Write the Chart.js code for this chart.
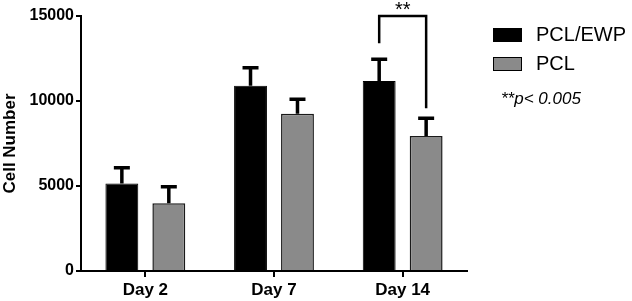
<!DOCTYPE html>
<html>
<head>
<meta charset="utf-8">
<script src="https://cdn.jsdelivr.net/npm/chart.js@4"></script>
<style>
  body { margin: 0; background: #fff; }
  #wrap { width: 632px; height: 301px; }
</style>
</head>
<body>
<div id="wrap"><canvas id="myChart"></canvas></div>
<script>
// data
const days = ["Day 2", "Day 7", "Day 14"]
const pclEwp = [5150, 10900, 11180]
const pclEwpErr = [6080, 11950, 12450]
const pcl = [3980, 9250, 7940]
const pclErr = [4960, 10100, 8980]
const yTicks = [0, 5000, 10000, 15000]
const sigNote = "**p< 0.005"

const FONT = "'Liberation Sans', Arial, sans-serif"

// upward-only error bars with a cap
const errorBars = {
    id: 'errorBars',
    afterDatasetsDraw(chart) {
        const ctx = chart.ctx
        const y = chart.scales.y
        chart.data.datasets.forEach((ds, i) => {
            const meta = chart.getDatasetMeta(i)
            meta.data.forEach((bar, j) => {
                const top = y.getPixelForValue(ds.data[j])
                const e = y.getPixelForValue(ds.errTop[j])
                ctx.save()
                ctx.strokeStyle = "#000"
                ctx.lineWidth = 3.5
                ctx.beginPath()
                ctx.moveTo(bar.x, top)
                ctx.lineTo(bar.x, e)
                ctx.moveTo(bar.x - 8, e)
                ctx.lineTo(bar.x + 8, e)
                ctx.stroke()
                ctx.restore()
            })
        })
    }
}

// significance bracket over Day 14
const bracket = {
    id: 'bracket',
    afterDatasetsDraw(chart) {
        const ctx = chart.ctx
        const y = chart.scales.y
        const a = chart.getDatasetMeta(0).data[2]
        const b = chart.getDatasetMeta(1).data[2]
        const topY = y.getPixelForValue(15000)
        ctx.save()
        ctx.strokeStyle = "#000"
        ctx.lineWidth = 2.5
        ctx.beginPath()
        ctx.moveTo(a.x, y.getPixelForValue(pclEwpErr[2]) - 16)
        ctx.lineTo(a.x, topY)
        ctx.lineTo(b.x, topY)
        ctx.lineTo(b.x, y.getPixelForValue(pclErr[2]) - 10)
        ctx.stroke()
        ctx.fillStyle = "#000"
        ctx.font = "20px " + FONT
        ctx.textAlign = "center"
        ctx.textBaseline = "top"
        ctx.fillText("**", (a.x + b.x) / 2, 0)
        ctx.restore()
    }
}

// legend at the right
const sideLegend = {
    id: 'sideLegend',
    afterDraw(chart) {
        const ctx = chart.ctx
        const x0 = chart.chartArea.right + 26
        ctx.save()
        chart.data.datasets.forEach((ds, i) => {
            const yy = 28 + i * 29
            ctx.fillStyle = ds.backgroundColor
            ctx.fillRect(x0, yy, 29, 14)
            ctx.strokeStyle = "#000"
            ctx.lineWidth = 1
            ctx.strokeRect(x0 + 0.5, yy + 0.5, 28, 13)
            ctx.fillStyle = "#000"
            ctx.font = "20px " + FONT
            ctx.textBaseline = "middle"
            ctx.fillText(ds.label, x0 + 43, yy + 7.5)
        })
        ctx.font = "italic 17px " + FONT
        ctx.textBaseline = "middle"
        ctx.fillText(sigNote, x0 + 8, 99)
        ctx.restore()
    }
}

const ctx = document.getElementById('myChart')

new Chart(ctx, {
    type: 'bar',
    data: {
        labels: days,
        datasets: [{
            label: 'PCL/EWP',
            data: pclEwp,
            errTop: pclEwpErr,
            backgroundColor: "#000000",
            borderColor: "#000",
            borderWidth: 1
        }, {
            label: 'PCL',
            data: pcl,
            errTop: pclErr,
            backgroundColor: "#8a8a8a",
            borderColor: "#1a1a1a",
            borderWidth: 1.5
        }]
    },
    options: {
        responsive: true,
        maintainAspectRatio: false,
        animation: false,
        categoryPercentage: 0.73,
        barPercentage: 0.7,
        layout: { padding: { top: 16, right: 165, left: 0, bottom: 0 } },
        plugins: {
            legend: { display: false },
            tooltip: { enabled: false }
        },
        scales: {
            y: {
                min: 0,
                max: 15000,
                afterBuildTicks: (s) => { s.ticks = yTicks.map(v => ({ value: v })) },
                afterFit: (s) => { s.width = 81 },
                grid: { drawOnChartArea: false, drawTicks: true, tickLength: 5, color: "#000", lineWidth: 2 },
                border: { color: "#000", width: 2 },
                ticks: {
                    color: "#000", padding: 2,
                    font: { family: FONT, size: 16, weight: 'bold' },
                    callback: (v) => String(v)
                },
                title: { display: true, text: 'Cell Number', color: "#000", padding: { top: 0, bottom: 2 }, font: { family: FONT, size: 17, weight: 'bold' } }
            },
            x: {
                afterFit: (s) => { s.height = 30 },
                grid: { offset: false, drawOnChartArea: false, drawTicks: true, tickLength: 6, color: "#000", lineWidth: 2 },
                border: { color: "#000", width: 2 },
                ticks: { color: "#000", padding: 3, font: { family: FONT, size: 17, weight: 'bold' } }
            }
        }
    },
    plugins: [errorBars, bracket, sideLegend]
})
</script>
</body>
</html>
